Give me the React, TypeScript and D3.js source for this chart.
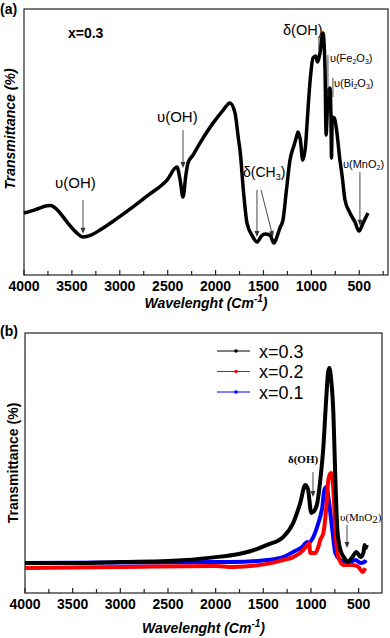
import React from 'react';
import * as d3 from 'd3';

// panel (a): x = 0.3 spectrum
const wnA = [4000, 3880, 3760, 3720, 3656, 3550, 3460, 3384, 3300, 3207, 3050, 2862, 2700, 2507, 2403, 2370, 2340, 2310, 2288, 2236, 2163, 2027, 1920, 1850, 1797, 1760, 1745, 1710, 1672, 1610, 1568, 1520, 1484, 1432, 1390, 1350, 1328, 1296, 1260, 1223, 1180, 1150, 1140, 1115, 1090, 1060, 1046, 1015, 983, 955, 935, 910, 879, 858, 846, 836, 827, 806, 795, 790, 782, 760, 733, 702, 680, 649, 597, 545, 503, 461, 409];
const tA = [23.3, 24.6, 26.0, 26.1, 24.6, 19.9, 16.2, 14.3, 15.0, 16.9, 20.7, 25.6, 30.1, 35.7, 40.6, 35.7, 29.3, 37.6, 42.1, 45.1, 49.6, 57.1, 62.0, 64.7, 60.9, 50.8, 47.0, 32.0, 19.5, 14.3, 12.4, 14.7, 15.4, 15.0, 12.0, 15.4, 17.7, 20.7, 32.0, 43.2, 48.9, 52.6, 53.8, 50.8, 43.2, 48.9, 56.4, 72.2, 81.6, 82.3, 80.1, 83.5, 91.0, 78.2, 52.6, 60.0, 68.4, 70.3, 58.3, 44.0, 59.4, 59.0, 53.4, 43.2, 37.6, 28.2, 23.3, 19.9, 16.5, 19.5, 23.3];

// panel (b): three compositions
const wnB3 = [4000, 3500, 3000, 2500, 2303, 2000, 1819, 1600, 1460, 1292, 1187, 1113, 1060, 1030, 997, 960, 934, 902, 870, 839, 820, 807, 790, 765, 744, 723, 691, 650, 618, 565, 523, 480, 450, 438, 425, 415];
const tB3 = [11.5, 11.5, 11.9, 12.3, 12.7, 13.8, 14.6, 16.5, 18.5, 21.5, 26.9, 34.6, 41.5, 39.6, 30.8, 31.9, 34.6, 43.5, 56.2, 75.4, 85.0, 86.5, 82.7, 69.2, 43.5, 24.2, 16.5, 13.5, 11.9, 13.8, 15.8, 13.8, 15.4, 18.5, 17.3, 18.5];
const wnB2 = [4000, 3000, 2000, 1819, 1460, 1292, 1187, 1081, 1039, 1020, 1007, 955, 923, 902, 870, 839, 818, 800, 786, 765, 744, 712, 660, 555, 502, 459, 430];
const tB2 = [9.6, 10.0, 10.4, 10.0, 11.2, 12.7, 13.8, 16.5, 18.5, 19.2, 15.4, 15.4, 17.7, 20.4, 23.1, 33.1, 43.5, 45.8, 46.2, 39.6, 24.2, 13.8, 10.8, 10.8, 10.0, 8.1, 9.6];
const wnB1 = [4000, 3000, 2000, 1819, 1460, 1292, 1187, 1092, 1039, 1028, 976, 923, 881, 860, 839, 818, 776, 744, 691, 618, 533, 480, 440, 425];
const tB1 = [11.5, 11.7, 11.9, 11.9, 12.7, 13.8, 15.8, 17.7, 19.6, 19.2, 21.5, 26.9, 33.1, 39.6, 40.8, 36.9, 24.2, 15.4, 12.7, 11.5, 12.7, 11.5, 11.9, 12.7];

const seriesNames = ['x=0.3', 'x=0.2', 'x=0.1'];
const seriesColors = ['#000000', '#ff0000', '#0000ff'];

const majorTicks = [4000, 3500, 3000, 2500, 2000, 1500, 1000, 500];
const minorTicks = [3750, 3250, 2750, 2250, 1750, 1250, 750, 250];

const SANS = '"Liberation Sans", Arial, sans-serif';
const SERIF = '"Liberation Serif", "Times New Roman", serif';

type Panel = { left: number; right: number; top: number; bottom: number; xMax: number; xMin: number };
const pa: Panel = { left: 24, right: 388, top: 9, bottom: 275, xMax: 4000, xMin: 200 };
const pb: Panel = { left: 25, right: 382, top: 333, bottom: 593, xMax: 4000, xMin: 255 };

const makeScales = (p: Panel) => ({
  x: d3.scaleLinear().domain([p.xMax, p.xMin]).range([p.left, p.right]),
  y: d3.scaleLinear().domain([0, 100]).range([p.bottom, p.top]),
});

const Frame = ({ p, x, labelY, titleY, yLabelX, italicY, tag, tagY }: any) => (
  <g>
    <rect x={p.left} y={p.top} width={p.right - p.left} height={p.bottom - p.top} fill="none" stroke="#222" strokeWidth={1.2} />
    {majorTicks.map(t => (
      <g key={'M' + t}>
        <line x1={x(t)} x2={x(t)} y1={p.bottom} y2={p.bottom - 5} stroke="#222" strokeWidth={1.2} />
        <text x={x(t)} y={labelY} textAnchor="middle" fontFamily={SANS} fontWeight="bold" fontSize={14}>{t}</text>
      </g>
    ))}
    {minorTicks.filter(t => x(t) < p.right).map(t => (
      <line key={'m' + t} x1={x(t)} x2={x(t)} y1={p.bottom} y2={p.bottom - 4} stroke="#222" strokeWidth={1.2} />
    ))}
    <text x={(p.left + p.right) / 2} y={titleY} textAnchor="middle" fontFamily={SANS} fontWeight="bold" fontStyle="italic" fontSize={14}>
      Wavelenght (Cm<tspan fontSize={10} dy={-6}>-1</tspan><tspan dy={6}>)</tspan>
    </text>
    <text transform={`translate(${yLabelX},${(p.top + p.bottom) / 2 - (italicY ? 13 : 0)}) rotate(-90)`} textAnchor="middle"
      fontFamily={SANS} fontWeight="bold" fontStyle={italicY ? 'italic' : 'normal'} fontSize={14}>
      Transmittance (%)
    </text>
    <text x={0} y={tagY} fontFamily={SANS} fontWeight="bold" fontSize={14}>{tag}</text>
  </g>
);

const Arrow = ({ x1, y1, x2, y2, head = true, color = '#333' }: any) => {
  const ang = Math.atan2(y2 - y1, x2 - x1);
  const L = 6, w = 2.5;
  const bx = x2 - L * Math.cos(ang), by = y2 - L * Math.sin(ang);
  const px = -Math.sin(ang) * w, py = Math.cos(ang) * w;
  return (
    <g>
      <line x1={x1} y1={y1} x2={head ? bx : x2} y2={head ? by : y2} stroke={color} strokeWidth={0.9} />
      {head && <path d={`M${x2},${y2}L${bx + px},${by + py}L${bx - px},${by - py}Z`} fill={color} />}
    </g>
  );
};

export default function App() {
  const A = makeScales(pa);
  const B = makeScales(pb);
  const lineA = d3.line<number>().x((_d, i) => A.x(wnA[i])).y(d => A.y(d)).curve(d3.curveMonotoneX);
  const lineB = (wn: number[]) => d3.line<number>().x((_d, i) => B.x(wn[i])).y(d => B.y(d)).curve(d3.curveMonotoneX);
  const bData = [
    { wn: wnB1, t: tB1, c: seriesColors[2] },
    { wn: wnB2, t: tB2, c: seriesColors[1] },
    { wn: wnB3, t: tB3, c: seriesColors[0] },
  ];

  return (
    <div style={{ position: 'absolute', left: 0, top: 0 }}>
      <svg width={390} height={638} style={{ display: 'block', background: '#fff' }}>
        {/* panel (a) */}
        <Frame p={pa} x={A.x} labelY={291} titleY={308} yLabelX={15} italicY tag="(a)" tagY={14} />
        <path d={lineA(tA) || ''} fill="none" stroke="#000" strokeWidth={3.5} strokeLinejoin="round" />
        <text x={A.x(3541)} y={A.y(89.1)} fontFamily={SANS} fontWeight="bold" fontSize={14}>x=0.3</text>

        <text x={A.x(2612)} y={A.y(57.5)} fontFamily={SANS} fontSize={15}>υ(OH)</text>
        <Arrow x1={A.x(2340)} y1={A.y(54.5)} x2={A.x(2340)} y2={A.y(40.2)} />
        <text x={A.x(3676)} y={A.y(32.7)} fontFamily={SANS} fontSize={15}>υ(OH)</text>
        <Arrow x1={A.x(3384)} y1={A.y(28.2)} x2={A.x(3384)} y2={A.y(15.5)} />

        <text x={A.x(1714)} y={A.y(36.8)} fontFamily={SANS} fontSize={14}>δ(CH<tspan fontSize={9} dy={3}>3</tspan><tspan dy={-3}>)</tspan></text>
        <Arrow x1={A.x(1568)} y1={A.y(32)} x2={A.x(1568)} y2={A.y(14.3)} />
        <Arrow x1={A.x(1526)} y1={A.y(32)} x2={A.x(1401)} y2={A.y(14.3)} />

        <text x={A.x(670)} y={A.y(40.2)} fontFamily={SANS} fontSize={11}>υ(MnO<tspan fontSize={7} dy={2}>2</tspan><tspan dy={-2}>)</tspan></text>
        <Arrow x1={A.x(493)} y1={A.y(38.7)} x2={A.x(493)} y2={A.y(18.5)} />

        <text x={A.x(1296)} y={A.y(90.2)} fontFamily={SANS} fontSize={14.5}>δ(OH)</text>
        <Arrow x1={A.x(921)} y1={A.y(89.5)} x2={A.x(921)} y2={A.y(84.6)} head={false} />
        <text x={A.x(806)} y={A.y(80.1)} fontFamily={SANS} fontSize={11}>υ(Fe<tspan fontSize={7} dy={2}>2</tspan><tspan dy={-2}>O</tspan><tspan fontSize={7} dy={2}>3</tspan><tspan dy={-2}>)</tspan></text>
        <Arrow x1={A.x(827)} y1={A.y(82.7)} x2={A.x(827)} y2={A.y(66.9)} head={false} />
        <text x={A.x(764)} y={A.y(70.7)} fontFamily={SANS} fontSize={11}>υ(Bi<tspan fontSize={7} dy={2}>2</tspan><tspan dy={-2}>O</tspan><tspan fontSize={7} dy={2}>3</tspan><tspan dy={-2}>)</tspan></text>
        <Arrow x1={A.x(775)} y1={A.y(74.1)} x2={A.x(775)} y2={A.y(66.9)} head={false} />

        {/* panel (b) */}
        <Frame p={pb} x={B.x} labelY={609} titleY={633} yLabelX={18} italicY={false} tag="(b)" tagY={336} />
        {bData.map((s, i) => (
          <path key={i} d={lineB(s.wn)(s.t) || ''} fill="none" stroke={s.c} strokeWidth={4} strokeLinejoin="round" />
        ))}
        <text x={B.x(1241)} y={B.y(50)} fontFamily={SERIF} fontWeight="bold" fontSize={11}>δ(OH)</text>
        <Arrow x1={B.x(979)} y1={B.y(46.5)} x2={B.x(979)} y2={B.y(36.9)} />
        <text x={B.x(696)} y={B.y(27.7)} fontFamily={SERIF} fontSize={11}>υ(MnO<tspan dy={2}>2</tspan><tspan dy={-2}>)</tspan></text>
        <Arrow x1={B.x(622)} y1={B.y(26.2)} x2={B.x(622)} y2={B.y(17.3)} />

        {seriesNames.map((n, i) => {
          const ly = 351 + i * 20.5;
          return (
            <g key={n}>
              <line x1={217} x2={250} y1={ly} y2={ly} stroke={seriesColors[i]} strokeWidth={1} />
              <circle cx={236} cy={ly} r={1.8} fill={seriesColors[i]} />
              <text x={259} y={ly + 6.5} fontFamily={SANS} fontSize={18}>{n}</text>
            </g>
          );
        })}
      </svg>
    </div>
  );
}
